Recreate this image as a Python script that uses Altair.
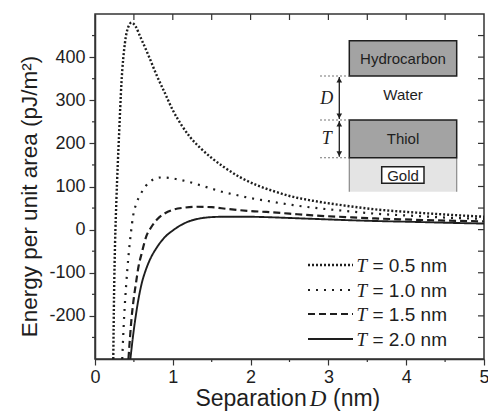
import altair as alt
import pandas as pd

# ---- data: separation D (nm) and energy (pJ/m^2) ----
D_T05 = [0.235, 0.245, 0.258, 0.275, 0.31, 0.34, 0.385, 0.43, 0.47, 0.52, 0.58, 0.685,
         0.79, 0.9, 1.0, 1.11, 1.22, 1.35, 1.5, 1.65, 1.86, 2.08, 2.3, 2.5, 2.8, 3.24,
         3.6, 4.09, 4.5, 5.0]
E_T05 = [-300, -150, -30, 68, 223, 340, 433, 471, 480, 472, 448, 405,
         359, 316, 277, 243, 215, 190, 166, 146, 122, 103, 89, 78, 67, 55,
         47, 40, 35, 30]

D_T10 = [0.35, 0.375, 0.40, 0.43, 0.46, 0.49, 0.53, 0.58, 0.64, 0.70, 0.77, 0.86, 0.95,
         1.05, 1.2, 1.35, 1.5, 1.65, 1.8, 2.0, 2.2, 2.5, 2.8, 3.24, 3.6, 4.09, 4.5, 5.0]
E_T10 = [-300, -200, -130, -62, -10, 32, 60, 80, 98, 110, 118, 121, 120,
         117, 111, 103, 95, 87, 81, 73, 67, 58, 51, 43, 37, 32, 28, 25]

D_T15 = [0.43, 0.45, 0.47, 0.495, 0.53, 0.56, 0.60, 0.66, 0.72, 0.80, 0.90, 1.0, 1.15,
         1.3, 1.5, 1.7, 2.0, 2.2, 2.5, 2.8, 3.24, 3.6, 4.09, 4.5, 5.0]
E_T15 = [-300, -250, -205, -164, -120, -85, -55, -15, 5, 24, 38, 46, 51,
         53, 52, 48, 43, 41, 37, 33, 29, 26, 23, 21, 19]

D_T20 = [0.455, 0.49, 0.52, 0.555, 0.60, 0.65, 0.70, 0.80, 0.90, 1.0, 1.1, 1.22, 1.35,
         1.5, 1.7, 1.9, 2.2, 2.5, 2.8, 3.24, 3.6, 4.09, 4.5, 5.0]
E_T20 = [-300, -245, -205, -165, -125, -95, -72, -40, -17, -2, 10, 20, 26,
         29, 30, 30, 29, 27, 25, 22, 20, 18, 16, 14]

LEGEND_VALUES = ["= 0.5 nm", "= 1.0 nm", "= 1.5 nm", "= 2.0 nm"]

X_MAJOR = [0, 1, 2, 3, 4, 5]
X_ALL = [0.5, 1, 1.5, 2, 2.5, 3, 3.5, 4, 4.5]
X_MINOR = [0.5, 1.5, 2.5, 3.5, 4.5]
Y_MAJOR = [-200, -100, 0, 100, 200, 300, 400]
Y_MINOR = [-250, -150, -50, 50, 150, 250, 350, 450]
Y_ALL = [-250, -200, -150, -100, -50, 0, 50, 100, 150, 200, 250, 300, 350, 400, 450]

# ---- styling ----
INK = "#1e1e1e"
FRAME = "#333333"
SANS = "Liberation Sans"
SERIF = "Liberation Serif"
W, H = 389, 345

xs = alt.Scale(domain=[0, 5], nice=False, zero=False)
ys = alt.Scale(domain=[-300, 500], nice=False, zero=False)
xaxis = alt.Axis(values=X_MAJOR, title=None, tickSize=6, labelPadding=3,
                 labelFontSize=18, grid=False, labelFlush=False)
yaxis = alt.Axis(values=Y_MAJOR, title="Energy per unit area (pJ/m²)", tickSize=6,
                 labelPadding=4, labelFontSize=18, grid=False,
                 labelExpr="'' + datum.value",
                 titleFontSize=22.5, titleFont=SANS, titleFontWeight="normal",
                 titleX=-59, titleY=182, titleAngle=-90, titleAlign="center",
                 titleBaseline="alphabetic", titleColor=INK)

ONE = alt.Data(values=[{"k": 0}])

series = [
    (D_T05, E_T05, [2, 2], 2.4),
    (D_T10, E_T10, [2, 6], 2.2),
    (D_T15, E_T15, [7, 4], 2.2),
    (D_T20, E_T20, [1, 0], 1.9),
]

layers = []
for d, e, dash, sw in series:
    df = pd.DataFrame({"D": d, "E": e})
    layers.append(
        alt.Chart(df).mark_line(color=INK, strokeWidth=sw, strokeDash=dash,
                                interpolate="monotone", clip=True)
        .encode(x=alt.X("D:Q", scale=xs, axis=xaxis),
                y=alt.Y("E:Q", scale=ys, axis=yaxis))
    )

# minor / mirrored ticks
def vrules(vals, y1, y2, sw=1.2):
    return alt.Chart(pd.DataFrame({"D": vals})).mark_rule(color=FRAME, strokeWidth=sw).encode(
        x=alt.X("D:Q", scale=xs, axis=xaxis), y=alt.value(y1), y2=alt.value(y2))

def hrules(vals, x1, x2, sw=1.2):
    return alt.Chart(pd.DataFrame({"E": vals})).mark_rule(color=FRAME, strokeWidth=sw).encode(
        y=alt.Y("E:Q", scale=ys, axis=yaxis), x=alt.value(x1), x2=alt.value(x2))

layers += [
    vrules(X_MINOR, H, H + 3),
    vrules(X_ALL, 0, 6),
    hrules(Y_MINOR, -3, 0),
    hrules(Y_ALL, W - 6, W),
]

def txt(s, x, y, size=15, font=SANS, style="normal", align="center", baseline="middle"):
    return alt.Chart(ONE).mark_text(text=s, fontSize=size, font=font, fontStyle=style,
                                    align=align, baseline=baseline, color=INK).encode(
        x=alt.value(x), y=alt.value(y))

def rect(x1, x2, y1, y2, fill, stroke=None, sw=1.5):
    kw = dict(fill=fill)
    if stroke:
        kw.update(stroke=stroke, strokeWidth=sw)
    return alt.Chart(ONE).mark_rect(**kw).encode(
        x=alt.value(x1), x2=alt.value(x2), y=alt.value(y1), y2=alt.value(y2))

def rule(x1, x2, y1, y2, color=INK, sw=1.3, dash=None):
    kw = dict(color=color, strokeWidth=sw)
    if dash:
        kw["strokeDash"] = dash
    return alt.Chart(ONE).mark_rule(**kw).encode(
        x=alt.value(x1), x2=alt.value(x2), y=alt.value(y1), y2=alt.value(y2))

def head(x, y, shape):
    return alt.Chart(ONE).mark_point(shape=shape, filled=True, size=32, color=INK, opacity=1).encode(
        x=alt.value(x), y=alt.value(y))

# inset schematic
BX1, BX2 = 254.3, 361.7
layers += [
    rect(BX1, BX2, 143.7, 177.7, "#e4e4e4"),
    rule(BX1, BX1, 143.7, 177.7, color="#8a8a8a", sw=1.2),
    rule(BX2, BX2, 143.7, 177.7, color="#8a8a8a", sw=1.2),
    rect(BX1, BX2, 26.7, 62, "#a3a3a3", INK),
    rect(BX1, BX2, 106, 143.7, "#a3a3a3", INK),
    rect(286.7, 329, 152.7, 169.3, "white", INK, 1.5),
    rule(225, BX1, 62, 62, color="#777777", sw=1.1, dash=[2, 2]),
    rule(225, BX1, 106, 106, color="#777777", sw=1.1, dash=[2, 2]),
    rule(225, BX1, 143.7, 143.7, color="#777777", sw=1.1, dash=[2, 2]),
    rule(244.3, 244.3, 63, 105),
    rule(244.3, 244.3, 107, 142.7),
    head(244.3, 66, "triangle-up"),
    head(244.3, 102, "triangle-down"),
    head(244.3, 110, "triangle-up"),
    head(244.3, 139.7, "triangle-down"),
    txt("Hydrocarbon", 308, 44.5),
    txt("Water", 308, 81),
    txt("Thiol", 308, 125),
    txt("Gold", 308, 161.5),
    txt("D", 231.7, 84.5, size=18, font=SERIF, style="italic"),
    txt("T", 231.7, 124.5, size=18, font=SERIF, style="italic"),
]

# legend
rows = [251, 276, 300, 325]
for (d, e, dash, sw), yy, lab in zip(series, rows, LEGEND_VALUES):
    layers.append(rule(213, 258, yy, yy, sw=sw, dash=dash))
    layers.append(txt("T", 261.5, yy + 1, size=19, font=SERIF, style="italic", align="left"))
    layers.append(txt(lab, 277.5, yy + 1, size=19, align="left"))

# x title with italic D
layers += [
    txt("Separation", 211.7, 392, size=23, align="right", baseline="alphabetic"),
    txt("D", 223, 392, size=23, font=SERIF, style="italic", baseline="alphabetic"),
    txt("(nm)", 238, 392, size=23, align="left", baseline="alphabetic"),
]

chart = alt.layer(*layers).properties(
    width=W, height=H,
    autosize=alt.AutoSizeParams(type="none"),
    padding={"left": 95, "top": 14, "right": 4, "bottom": 56},
).configure_view(stroke=FRAME, strokeWidth=1.5).configure_axis(
    domainColor=FRAME, domainWidth=1.5, tickColor=FRAME, tickWidth=1.2,
    labelColor=INK, labelFont=SANS, titleFont=SANS,
)

chart.save("out.html", embed_options={"renderer": "svg", "actions": False})
